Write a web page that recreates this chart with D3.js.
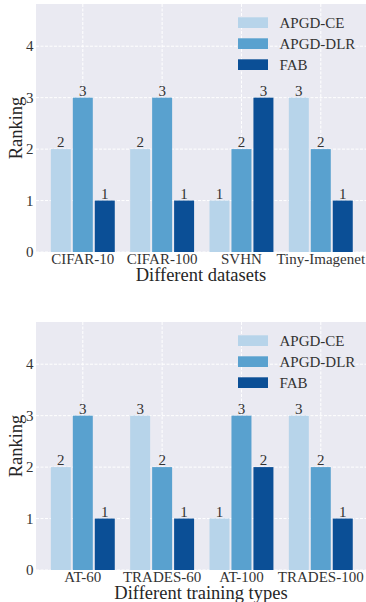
<!DOCTYPE html>
<html>
<head>
<meta charset="utf-8">
<script src="https://cdn.jsdelivr.net/npm/d3@7"></script>
<style>
html,body{margin:0;padding:0;background:#fff;}
svg{display:block;}
text{font-family:"Liberation Serif","Times New Roman",serif;}
</style>
</head>
<body>
<svg id="chart" width="366" height="602"></svg>
<script>
const seriesNames = ["APGD-CE", "APGD-DLR", "FAB"];
const colors = ["#b7d4ea", "#59a1cf", "#0b4f96"];
const yTicks = [0, 1, 2, 3, 4];

const datasetCats = ["CIFAR-10", "CIFAR-100", "SVHN", "Tiny-Imagenet"];
const datasetCE  = [2, 2, 1, 3];
const datasetDLR = [3, 3, 2, 2];
const datasetFAB = [1, 1, 3, 1];

const trainingCats = ["AT-60", "TRADES-60", "AT-100", "TRADES-100"];
const trainingCE  = [2, 3, 1, 3];
const trainingDLR = [3, 2, 3, 2];
const trainingFAB = [1, 1, 2, 1];

const svg = d3.select("#chart");

function panel(top, cats, series, xlabel) {
  const left = 36, right = 366, bottom = top + 248;
  const x = d3.scaleLinear().domain([-0.59, 3.57]).range([left, right]);
  const y = d3.scaleLinear().domain([0, 4.82]).range([bottom, top]);
  const g = svg.append("g");
  g.append("rect").attr("x", left).attr("y", top)
    .attr("width", right - left).attr("height", bottom - top).attr("fill", "#eaeaf2");
  // grid
  g.selectAll(".hg").data(yTicks).enter().append("line")
    .attr("x1", left).attr("x2", right)
    .attr("y1", d => y(d)).attr("y2", d => y(d))
    .attr("stroke", "#fff").attr("stroke-width", 1).attr("stroke-dasharray", "3,1.5");
  g.selectAll(".vg").data(cats).enter().append("line")
    .attr("x1", (d, i) => x(i)).attr("x2", (d, i) => x(i))
    .attr("y1", top).attr("y2", bottom)
    .attr("stroke", "#fff").attr("stroke-width", 1).attr("stroke-dasharray", "3,1.5");
  // bars
  const off = 0.277, w = 0.252;
  series.forEach((vals, s) => {
    const o = (s - 1) * off;
    g.selectAll(".b" + s).data(vals).enter().append("rect")
      .attr("x", (d, i) => x(i + o - w / 2))
      .attr("width", x(w) - x(0))
      .attr("y", d => y(d))
      .attr("height", d => y(0) - y(d))
      .attr("fill", colors[s]);
    g.selectAll(".l" + s).data(vals).enter().append("text")
      .attr("x", (d, i) => x(i + o))
      .attr("y", d => y(d) - 1.8)
      .attr("text-anchor", "middle")
      .attr("font-size", 15).attr("fill", "#333")
      .text(d => d);
  });
  // y ticks
  g.selectAll(".yt").data(yTicks).enter().append("text")
    .attr("x", 33.5).attr("y", d => y(d) + 5)
    .attr("text-anchor", "end").attr("font-size", 15).attr("fill", "#333")
    .text(d => d);
  // x ticks
  g.selectAll(".xt").data(cats).enter().append("text")
    .attr("x", (d, i) => x(i)).attr("y", bottom + 11.5)
    .attr("text-anchor", "middle").attr("font-size", 15).attr("fill", "#333")
    .text(d => d);
  // axis labels
  g.append("text").attr("x", (left + right) / 2).attr("y", bottom + 29.3)
    .attr("text-anchor", "middle").attr("font-size", 18.5).attr("fill", "#262626")
    .text(xlabel);
  g.append("text")
    .attr("transform", `translate(${21.5},${(top + bottom) / 2}) rotate(-90)`)
    .attr("text-anchor", "middle").attr("font-size", 18.5).attr("fill", "#262626")
    .text("Ranking");
  // legend
  seriesNames.forEach((n, s) => {
    const ly = top + 13.3 + s * 21;
    g.append("rect").attr("x", 238).attr("y", ly).attr("width", 30).attr("height", 10.7)
      .attr("fill", colors[s]);
    g.append("text").attr("x", 279.5).attr("y", ly + 10.3)
      .attr("font-size", 15).attr("fill", "#333").text(n);
  });
}

panel(4, datasetCats, [datasetCE, datasetDLR, datasetFAB], "Different datasets");
panel(322, trainingCats, [trainingCE, trainingDLR, trainingFAB], "Different training types");
</script>
</body>
</html>
